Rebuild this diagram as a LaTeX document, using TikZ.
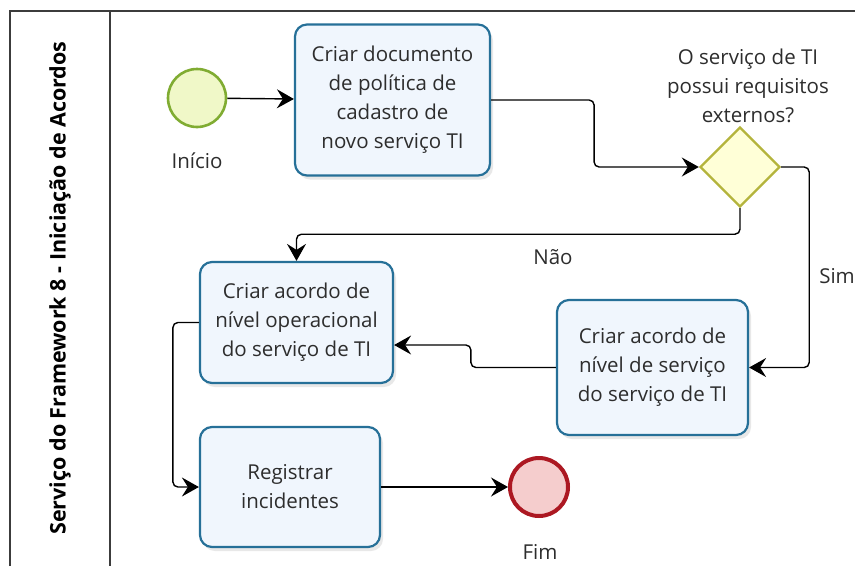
\documentclass[tikz,border=0pt]{standalone}
\usepackage{fontspec}
\setmainfont{Open Sans}
\usetikzlibrary{arrows.meta,shapes.geometric,shadows}
\definecolor{taskb}{RGB}{38,112,152}
\definecolor{taskf}{RGB}{240,246,253}
\definecolor{txt}{RGB}{45,45,45}
\definecolor{startb}{RGB}{128,172,50}
\definecolor{startf}{RGB}{240,248,200}
\definecolor{gwb}{RGB}{180,180,60}
\definecolor{gwf}{RGB}{255,255,215}
\definecolor{endb}{RGB}{172,24,34}
\definecolor{endf}{RGB}{245,205,205}
\definecolor{framec}{RGB}{60,60,60}
\begin{document}
\begin{tikzpicture}[x=1pt,y=-1pt,
  txtfont/.style={font=\fontsize{20.5}{29}\selectfont, text=txt},
  task/.style={draw=taskb, line width=2.2pt, rounded corners=12pt, fill=taskf,
    align=center, txtfont, inner sep=0pt,
    drop shadow={shadow xshift=3pt, shadow yshift=-4pt, opacity=0.15, fill=black!60}},
  startev/.style={circle, draw=startb, fill=startf, line width=2.6pt, minimum size=58pt, inner sep=0pt},
  endev/.style={circle, draw=endb, fill=endf, line width=4pt, minimum size=58pt, inner sep=0pt},
  gateway/.style={diamond, draw=gwb, fill=gwf, line width=2.4pt, minimum width=80pt, minimum height=80pt, inner sep=0pt},
  flow/.style={draw=black, line width=1.4pt, rounded corners=5pt, -{Stealth[length=17pt,width=19pt,inset=6pt]}},
  lbl/.style={txtfont, align=center, inner sep=0pt}
]
\useasboundingbox (0,0) rectangle (855,566);
\fill[white] (0,0) rectangle (855,566);
% pool frame
\draw[framec, line width=1.6pt] (10,566) -- (10,11) -- (855,11);
\draw[framec, line width=1.6pt] (110,11) -- (110,566);
\node[rotate=90, font=\fontsize{21.5}{24}\selectfont\bfseries, text=black] (lane) at (60,288) {Serviço do Framework 8 - Iniciação de Acordos};

% nodes
\node[startev] (start) at (197,98) {};
\node[lbl] (startl) at (197,161) {Início};
\node[task, minimum width=195pt, minimum height=151pt] (t1) at (392.5,100) {Criar documento\\de política de\\cadastro de\\novo serviço TI};
\node[gateway] (gw) at (740,167) {};
\node[lbl] (gwl) at (748,86) {O serviço de TI\\possui requisitos\\externos?};
\node[task, minimum width=193pt, minimum height=121pt] (t2) at (296.5,322.5) {Criar acordo de\\nível operacional\\do serviço de TI};
\node[task, minimum width=191pt, minimum height=135pt] (t3) at (652.5,367.5) {Criar acordo de\\nível de serviço\\do serviço de TI};
\node[task, minimum width=180pt, minimum height=120pt] (t4) at (290,487) {Registrar\\incidentes};
\node[endev] (end) at (539,487) {};
\node[lbl] (endl) at (540,552) {Fim};
\node[lbl] (nao) at (553,257) {Não};
\node[lbl] (sim) at (837,276) {Sim};

% flows
\draw[flow] (start) -- (t1);
\draw[flow] (t1.east) -- ++(103,0) |- (gw.west);
\draw[flow] (gw.south) -- ++(0,26) -| (t2.north);
\draw[flow] (gw.east) -- ++(28,0) |- (t3.east);
\draw[flow] (t3.west) -- ++(-85,0) |- ([yshift=-22.5pt]t2.east);
\draw[flow] (t2.west) -- ++(-26,0) |- (t4.west);
\draw[flow] (t4) -- (end);
\end{tikzpicture}
\end{document}
